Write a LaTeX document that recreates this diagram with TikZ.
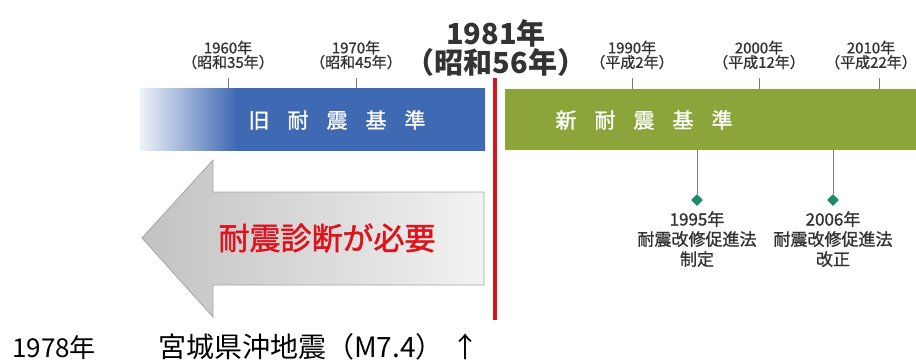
\documentclass[tikz,border=0pt]{standalone}
\usepackage{fontspec}
\setmainfont{Noto Sans CJK JP}
\newfontfamily\medfont{Noto Sans CJK JP}[FakeBold=1.2]
\newfontfamily\semifont{Noto Sans CJK JP}[FakeBold=1.6]
\usetikzlibrary{shapes.geometric}
\definecolor{oldblue}{HTML}{3F69B3}
\definecolor{oldpale}{HTML}{EEF2F9}
\definecolor{newgreen}{HTML}{8CA53A}
\definecolor{cutred}{HTML}{D8141E}
\definecolor{txtred}{HTML}{E0121C}
\definecolor{teal}{HTML}{1E8A6C}
\definecolor{darktxt}{HTML}{333333}
\definecolor{tickgray}{HTML}{7A7A7A}
\pgfdeclarehorizontalshading{oldfade}{100bp}{color(0bp)=(oldpale); color(25bp)=(oldpale); color(39bp)=(oldblue); color(100bp)=(oldblue)}
\newcommand{\hs}{\hspace{18pt}}
\tikzset{
  yearlbl/.style={font=\fontsize{15}{14.5}\selectfont\medfont, text=darktxt, align=center, inner sep=0pt},
  bartext/.style={font=\fontsize{21}{22}\selectfont\medfont, text=white, inner sep=0pt},
  eventlbl/.style={font=\fontsize{17}{20}\selectfont\medfont, text=darktxt, align=center, inner sep=0pt},
  tickline/.style={draw=tickgray, line width=1pt},
  marker/.style={diamond, fill=teal, minimum size=12pt, inner sep=0pt},
  bottomtxt/.style={text=black, inner sep=0pt, anchor=base west},
}
\begin{document}
\begin{tikzpicture}[x=1pt,y=-1pt]
\useasboundingbox (0,0) rectangle (916,361);
% old standard bar
\shade[shading=oldfade] (140,89) rectangle (485,150);
\node[bartext] (oldtxt) at (337,120) {旧\hs 耐\hs 震\hs 基\hs 準};
% new standard bar
\fill[newgreen] (505,89) rectangle (916,150);
\node[bartext] (newtxt) at (644,120) {新\hs 耐\hs 震\hs 基\hs 準};
% arrow
\shade[left color=gray!48, right color=gray!10, draw=gray!70, line width=0.8pt]
  (142,238) -- (213,160) -- (213,192) -- (484,192) -- (484,285) -- (213,285) -- (213,317) -- cycle;
\node[font=\fontsize{31}{33}\selectfont\semifont, text=txtred, inner sep=0pt] (need) at (327,238) {耐震診断が必要};
% red 1981 line
\coordinate (rtop) at (495,78);
\coordinate (rbot) at (495,320);
\draw[cutred, line width=4pt] (rtop) -- (rbot);
\node[font=\fontsize{29}{29}\selectfont\bfseries, text=darktxt, align=center, inner sep=0pt] (y81) at (496,48) {1981年\\（昭和56年）};
% year ticks
\foreach \x/\lx/\n/\a/\b in {228/228/y60/1960年/（昭和35年）, 356/356/y70/1970年/（昭和45年）, 632/632/y90/1990年/（平成2年）, 759/759/y00/2000年/（平成12年）, 879/871/y10/2010年/（平成22年）}{
  \node[yearlbl] (\n) at (\lx,55) {\a\\\b};
  \coordinate (\n a) at (\x,78);
  \coordinate (\n b) at (\x,89);
  \draw[tickline] (\n a) -- (\n b);
}
% events
\coordinate (e95) at (697,150);
\node[marker] (d95) at (697,200) {};
\draw[tickline] (e95) -- (d95.north);
\node[eventlbl, anchor=north] (t95) at (697,211) {1995年\\耐震改修促進法\\制定};
\coordinate (e06) at (833,150);
\node[marker] (d06) at (833,200) {};
\draw[tickline] (e06) -- (d06.north);
\node[eventlbl, anchor=north] (t06) at (833,211) {2006年\\耐震改修促進法\\改正};
% bottom text
\node[bottomtxt, font=\fontsize{26}{28}\selectfont] (b1) at (12,357) {1978年};
\node[bottomtxt, font=\fontsize{28}{30}\selectfont] (b2) at (158,357) {宮城県沖地震（M7.4）\hspace{8pt}↑};
\end{tikzpicture}
\end{document}
